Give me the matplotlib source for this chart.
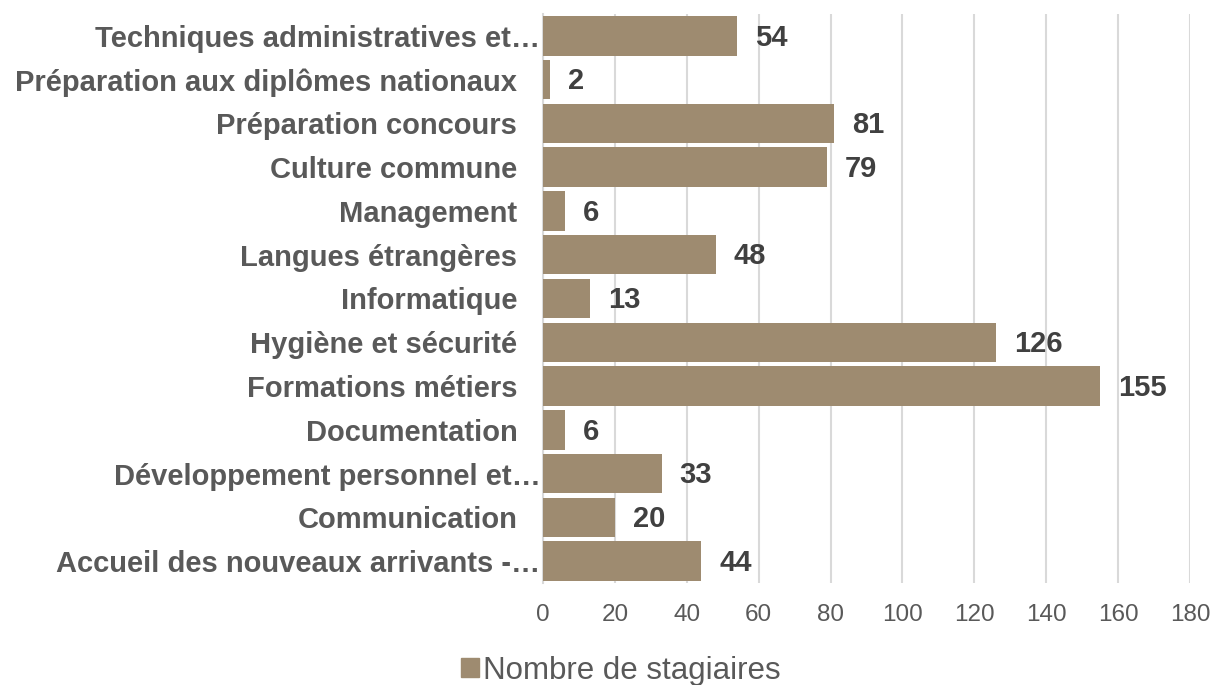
import matplotlib
matplotlib.use("Agg")
import matplotlib.pyplot as plt
from matplotlib.patches import Patch
from matplotlib.transforms import ScaledTranslation

categories = [
    "Accueil des nouveaux arrivants -…",
    "Communication",
    "Développement personnel et…",
    "Documentation",
    "Formations métiers",
    "Hygiène et sécurité",
    "Informatique",
    "Langues étrangères",
    "Management",
    "Culture commune",
    "Préparation concours",
    "Préparation aux diplômes nationaux",
    "Techniques administratives et…",
]
values = [44, 20, 33, 6, 155, 126, 13, 48, 6, 79, 81, 2, 54]
xticks = [0, 20, 40, 60, 80, 100, 120, 140, 160, 180]
series_name = "Nombre de stagiaires"

plt.rcParams['font.family'] = ['Liberation Sans', 'DejaVu Sans']

bar_color = "#9e8b70"
fig = plt.figure(figsize=(12.11, 6.85), dpi=100)
ax = fig.add_axes([0.4484, 0.1489, 0.5343, 0.8307])

y = list(range(len(categories)))
ax.barh(y, values, height=0.9, color=bar_color, zorder=3)
ax.set_ylim(-0.5, len(categories) - 0.5)
ax.set_xlim(0, 180)
ax.set_xticks(xticks)
ax.set_xticklabels([str(t) for t in xticks], fontsize=17.5, color="#595959")
ax.set_yticks(y)
ax.set_yticklabels(categories, fontsize=21, fontweight="bold", color="#595959")
ax.tick_params(axis="both", length=0)
ax.tick_params(axis="x", pad=15)
ax.tick_params(axis="y", pad=18.5)
for lab in ax.get_yticklabels():
    if lab.get_text().endswith("…"):
        lab.set_transform(lab.get_transform() +
                          ScaledTranslation(23 / 100, 0, fig.dpi_scale_trans))
ax.grid(axis="x", color="#d9d9d9", linewidth=1.5, zorder=0)
for s in ["top", "right", "bottom"]:
    ax.spines[s].set_visible(False)
ax.spines["left"].set_color("#d9d9d9")
ax.spines["left"].set_linewidth(1.5)

for yi, v in zip(y, values):
    ax.text(v + 5.0, yi - 0.04, str(v), va="center", ha="left", fontsize=21,
            fontweight="bold", color="#404040")

fig.legend(handles=[Patch(color=bar_color, label=series_name)],
           loc="center", bbox_to_anchor=(0.513, 0.021), frameon=False,
           fontsize=22.5, handlelength=0.55, handleheight=0.55, handletextpad=0.15,
           labelcolor="#595959")

fig.savefig("out.png", dpi=100)
